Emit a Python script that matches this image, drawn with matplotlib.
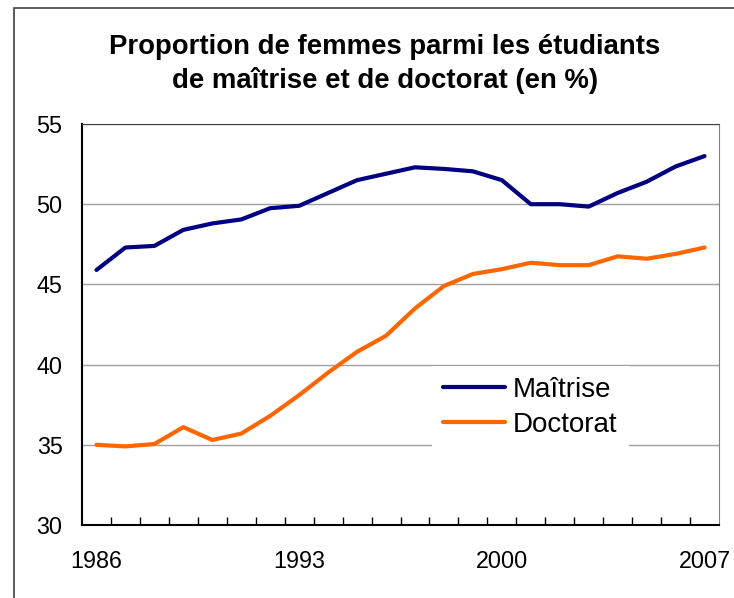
import matplotlib.pyplot as plt
from matplotlib.patches import Rectangle
import numpy as np

plt.rcParams['font.family'] = ['Liberation Sans', 'DejaVu Sans']

annees = list(range(1986, 2008))
maitrise = [45.9, 47.3, 47.4, 48.4, 48.8, 49.05, 49.75, 49.9, 50.7, 51.5, 51.9, 52.3,
            52.2, 52.05, 51.5, 50.0, 50.0, 49.85, 50.7, 51.4, 52.35, 53.0]
doctorat = [35.0, 34.9, 35.05, 36.1, 35.3, 35.7, 36.8, 38.1, 39.5, 40.8, 41.8, 43.5,
            44.9, 45.65, 45.95, 46.35, 46.2, 46.2, 46.75, 46.6, 46.9, 47.3]
annees_affichees = [1986, 1993, 2000, 2007]

fig = plt.figure(figsize=(7.34, 5.98), dpi=100)
ax = fig.add_axes([82/734, 1-525/598, 637/734, 401/598])

# cadre du graphique
fig.patches.append(Rectangle((14/734, -0.1), 1.0, 1-8/598+0.1, transform=fig.transFigure,
                             fill=False, edgecolor='#404040', linewidth=1.2))

ax.plot(annees, maitrise, color='#000080', linewidth=3, label='Maîtrise', solid_capstyle='round')
ax.plot(annees, doctorat, color='#FF6600', linewidth=3, label='Doctorat', solid_capstyle='round')

ax.set_xlim(1985.5, 2007.5)
ax.set_ylim(30, 55)
ax.set_yticks([30, 35, 40, 45, 50, 55])
ax.yaxis.grid(True, color='#a0a0a0', linewidth=1)
ax.set_axisbelow(True)

ax.set_xticks(annees_affichees)
ax.set_xticks(np.arange(1986.5, 2007, 1), minor=True)
ax.tick_params(axis='x', which='major', length=0, pad=18, labelsize=16.8)
ax.tick_params(axis='x', which='minor', direction='in', length=6, width=1, color='black')
ax.tick_params(axis='y', length=0, pad=14, labelsize=16.8)

ax.spines['left'].set_linewidth(1.5)
ax.spines['bottom'].set_linewidth(1.5)
ax.spines['top'].set_color('#404040')
ax.spines['right'].set_color('#808080')

leg = ax.legend(loc='center', bbox_to_anchor=(0.704, 0.294), fontsize=20,
                handlelength=2.2, labelspacing=0.32, handletextpad=0.3,
                frameon=True, fancybox=False, framealpha=1, edgecolor='none')

fig.text(385/734, 1-47/598, 'Proportion de femmes parmi les étudiants',
         ha='center', va='center', fontsize=19.8, fontweight='bold')
fig.text(385/734, 1-80/598, 'de maîtrise et de doctorat (en %)',
         ha='center', va='center', fontsize=19.8, fontweight='bold')

fig.savefig('out.png', dpi=100)
